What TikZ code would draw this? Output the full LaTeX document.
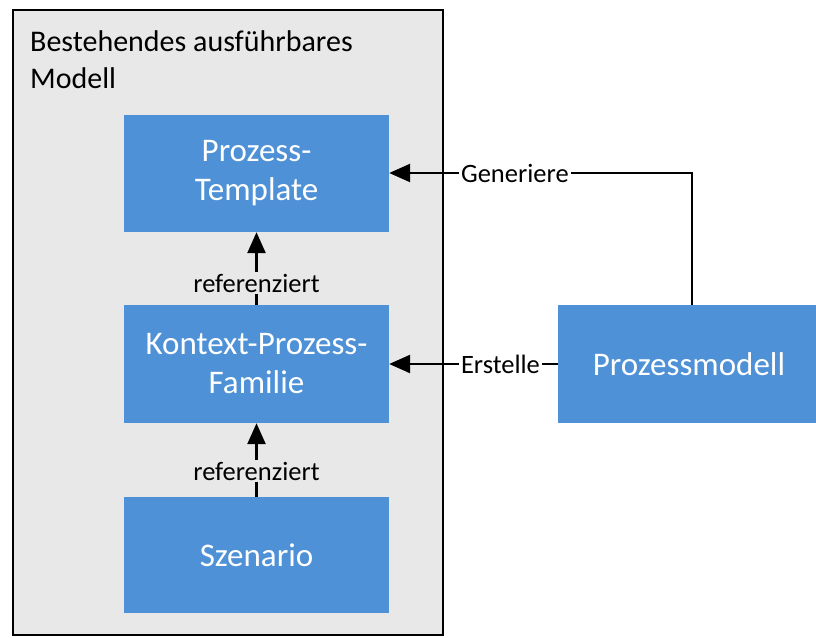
\documentclass[tikz,border=0pt]{standalone}
\usepackage{fontspec}
\setmainfont{Carlito}
\usetikzlibrary{arrows.meta}
\definecolor{boxblue}{RGB}{78,145,214}
\definecolor{panelgray}{RGB}{232,232,232}
\begin{document}
\begin{tikzpicture}[x=1pt,y=-1pt,
  blockbox/.style={fill=boxblue, draw=none, text=white, align=center,
    font=\fontsize{33}{39}\selectfont, inner sep=0pt},
  edgelabel/.style={font=\fontsize{26.5}{30}\selectfont, inner sep=2pt, text=black},
  flow/.style={line width=2.5pt, -{Triangle[length=21pt,width=18pt]}}
]
\useasboundingbox (0,0) rectangle (816,637);
\fill[white] (0,0) rectangle (816,637);

% surrounding panel
\draw[line width=2.5pt, fill=panelgray] (13,10) rectangle (443,635);
\node[anchor=north west, align=left, font=\fontsize{30}{37}\selectfont, inner sep=0pt]
  (title) at (30,30) {Bestehendes ausführbares\\Modell};

% blocks
\node[blockbox, minimum width=265pt, minimum height=117pt] (tpl) at (256.5,173.5) {Prozess-\\Template};
\node[blockbox, minimum width=265pt, minimum height=118pt] (kpf) at (256.5,364) {Kontext-Prozess-\\Familie};
\node[blockbox, minimum width=265pt, minimum height=116pt] (szn) at (256.5,555) {Szenario};
\node[blockbox, minimum width=262pt, minimum height=118pt] (pm) at (689,364) {Prozessmodell};

% references inside the panel
\draw[flow] (kpf.north) -- node[edgelabel, fill=panelgray, pos=0.3] (ref1) {referenziert} (tpl.south);
\draw[flow] (szn.north) -- node[edgelabel, fill=panelgray, pos=0.35] (ref2) {referenziert} (kpf.south);

% generation and creation from the process model
\coordinate (bend) at (692,173);
\draw[flow] (pm.north -| bend) -- (bend) -- node[edgelabel, fill=white, pos=0.585] (gen) {Generiere} (tpl.east |- bend);
\draw[flow] (pm.west) -- node[edgelabel, fill=white, pos=0.34] (cre) {Erstelle} (kpf.east);
\end{tikzpicture}
\end{document}
